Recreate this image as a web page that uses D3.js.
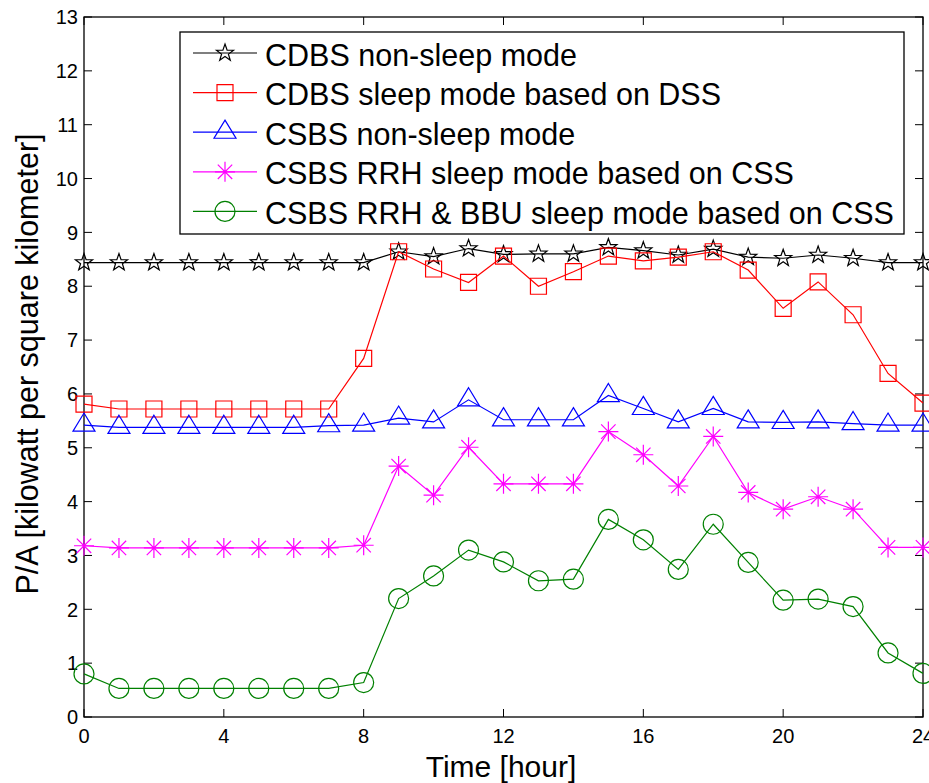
<!DOCTYPE html>
<meta charset="utf-8">
<style>
body{ margin:0; background:#fff; }
svg{ font-family: "Liberation Sans", Arial, Helvetica, sans-serif; }
</style>
<body>
<div id="chart"></div>
<script src="https://cdn.jsdelivr.net/npm/d3@7"></script>
<script>
// hours 0..24
var hours = d3.range(0, 25)
var xTicks = [0, 4, 8, 12, 16, 20, 24]
var yTicks = d3.range(0, 14)

var cdbsNonSleep = [8.44, 8.44, 8.44, 8.44, 8.44, 8.44, 8.44, 8.44, 8.44, 8.64, 8.55, 8.70, 8.59,
                    8.60, 8.60, 8.72, 8.66, 8.58, 8.69, 8.54, 8.52, 8.58, 8.52, 8.44, 8.44]
var cdbsSleepDSS = [5.81, 5.72, 5.72, 5.72, 5.72, 5.72, 5.72, 5.72, 6.66, 8.64, 8.32, 8.07, 8.56,
                    8.00, 8.27, 8.56, 8.47, 8.54, 8.64, 8.30, 7.59, 8.08, 7.47, 6.38, 5.83]
var csbsNonSleep = [5.42, 5.38, 5.38, 5.38, 5.38, 5.38, 5.38, 5.41, 5.42, 5.55, 5.48, 5.89, 5.52,
                    5.52, 5.52, 5.97, 5.73, 5.48, 5.73, 5.48, 5.47, 5.48, 5.45, 5.42, 5.42]
var csbsRRHSleep = [3.18, 3.14, 3.14, 3.14, 3.14, 3.14, 3.14, 3.14, 3.19, 4.66, 4.12, 5.01, 4.33,
                    4.33, 4.33, 5.30, 4.87, 4.29, 5.21, 4.17, 3.86, 4.09, 3.86, 3.15, 3.15]
var csbsRRHBBU   = [0.80, 0.53, 0.53, 0.53, 0.53, 0.53, 0.53, 0.53, 0.64, 2.20, 2.62, 3.10, 2.88,
                    2.53, 2.56, 3.67, 3.29, 2.74, 3.58, 2.87, 2.17, 2.19, 2.05, 1.19, 0.81]

var labels = ['CDBS non-sleep mode', 'CDBS sleep mode based on DSS', 'CSBS non-sleep mode',
              'CSBS RRH sleep mode based on CSS', 'CSBS RRH & BBU sleep mode based on CSS']
var colors = ['#000000', '#ff0000', '#0000ff', '#ff00ff', '#008000']
var markers = ['star', 'square', 'triangle', 'asterisk', 'circle']
var values = [cdbsNonSleep, cdbsSleepDSS, csbsNonSleep, csbsRRHSleep, csbsRRHBBU]

var W = 929, H = 783
var m = {left: 84, right: 6, top: 17, bottom: 66}

var x = d3.scaleLinear().domain([0, 24]).range([m.left, W - m.right])
var y = d3.scaleLinear().domain([0, 13]).range([H - m.bottom, m.top])

var svg = d3.select('#chart').append('svg')
    .attr('width', W).attr('height', H)

// marker shapes, size = half width
var shapes = {
  star: function(p, r){
    for (var i = 0; i < 10; i++){
      var a = -Math.PI/2 + i*Math.PI/5, rr = i % 2 ? r*0.4 : r
      i ? p.lineTo(rr*Math.cos(a), rr*Math.sin(a)) : p.moveTo(rr*Math.cos(a), rr*Math.sin(a))
    }
    p.closePath()
  },
  square: function(p, r){ p.rect(-r, -r, 2*r, 2*r) },
  triangle: function(p, r){
    var h = r*1.65
    p.moveTo(0, -h*2/3); p.lineTo(r, h/3); p.lineTo(-r, h/3); p.closePath()
  },
  asterisk: function(p, r){
    var d = r*0.72
    p.moveTo(-r, 0); p.lineTo(r, 0); p.moveTo(0, -r); p.lineTo(0, r)
    p.moveTo(-d, -d); p.lineTo(d, d); p.moveTo(-d, d); p.lineTo(d, -d)
  },
  circle: function(p, r){ p.moveTo(r, 0); p.arc(0, 0, r, 0, 2*Math.PI) }
}
var sizes = {star: 9, square: 8, triangle: 11, asterisk: 10, circle: 10}
function markerPath(type){
  var p = d3.path(); shapes[type](p, sizes[type]); return p.toString()
}

// box
svg.append('rect')
    .attr('x', x(0)).attr('y', y(13))
    .attr('width', x(24) - x(0)).attr('height', y(0) - y(13))
    .attr('fill', 'none').attr('stroke', '#000').attr('stroke-width', 1.3)

var tl = 8
var g = svg.append('g').attr('stroke', '#000').attr('stroke-width', 1)
xTicks.forEach(function(t){
  g.append('line').attr('x1', x(t)).attr('x2', x(t)).attr('y1', y(0)).attr('y2', y(0) - tl)
  g.append('line').attr('x1', x(t)).attr('x2', x(t)).attr('y1', y(13)).attr('y2', y(13) + tl)
})
yTicks.forEach(function(t){
  g.append('line').attr('x1', x(0)).attr('x2', x(0) + tl).attr('y1', y(t)).attr('y2', y(t))
  g.append('line').attr('x1', x(24)).attr('x2', x(24) - tl).attr('y1', y(t)).attr('y2', y(t))
})

svg.selectAll('.xt').data(xTicks).enter().append('text')
    .attr('x', function(d){ return x(d) }).attr('y', y(0) + 26)
    .attr('text-anchor', 'middle').attr('font-size', 20).text(function(d){ return d })
svg.selectAll('.yt').data(yTicks).enter().append('text')
    .attr('x', x(0) - 6).attr('y', function(d){ return y(d) })
    .attr('dy', '0.36em')
    .attr('text-anchor', 'end').attr('font-size', 20).text(function(d){ return d })

svg.append('text')
    .attr('x', 501).attr('y', 777)
    .attr('text-anchor', 'middle').attr('font-size', 30).text('Time [hour]')
svg.append('text')
    .attr('transform', 'translate(38,364) rotate(-90)')
    .attr('text-anchor', 'middle').attr('font-size', 30.5)
    .text('P/A [kilowatt per square kilometer]')

// series
var line = d3.line().x(function(d, i){ return x(hours[i]) }).y(function(d){ return y(d) })
values.forEach(function(vals, k){
  svg.append('path').attr('d', line(vals))
      .attr('fill', 'none').attr('stroke', colors[k]).attr('stroke-width', 1.2)
  svg.selectAll('.m' + k).data(vals).enter().append('path')
      .attr('transform', function(d, i){ return 'translate(' + x(hours[i]) + ',' + y(d) + ')' })
      .attr('d', markerPath(markers[k]))
      .attr('fill', 'none').attr('stroke', colors[k]).attr('stroke-width', 1.2)
})

// legend
var lg = svg.append('g')
lg.append('rect').attr('x', 180).attr('y', 32).attr('width', 724).attr('height', 202)
    .attr('fill', '#fff').attr('stroke', '#000').attr('stroke-width', 1.3)
labels.forEach(function(l, k){
  var cy = 53 + k*39.6
  lg.append('line').attr('x1', 193).attr('x2', 257).attr('y1', cy).attr('y2', cy)
      .attr('stroke', colors[k]).attr('stroke-width', 1.2)
  lg.append('path').attr('transform', 'translate(225,' + cy + ')')
      .attr('d', markerPath(markers[k]))
      .attr('fill', 'none').attr('stroke', colors[k]).attr('stroke-width', 1.2)
  lg.append('text').attr('x', 265).attr('y', cy + 12.5).attr('font-size', 30.5).text(l)
})
</script>
</body>
